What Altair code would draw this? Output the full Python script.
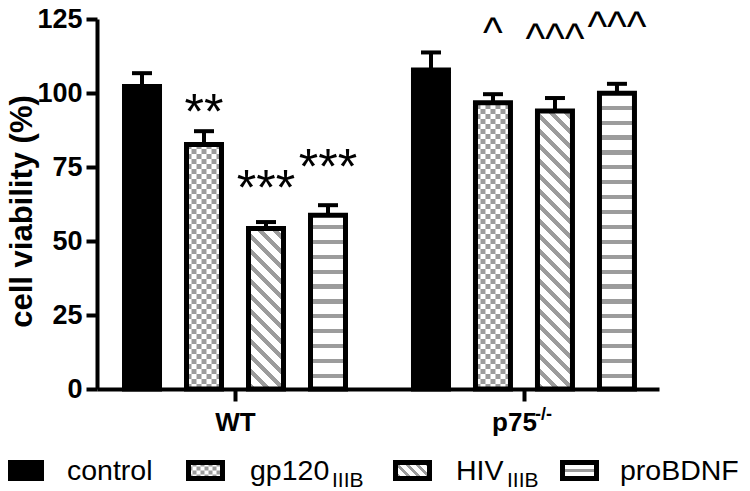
import altair as alt
import pandas as pd

# ---------------- data ----------------
groups = ["WT", "p75"]
treatments = ["control", "gp120", "HIV", "proBDNF"]
mean_wt = [102.2, 82.6, 54.2, 58.7]
sem_wt = [4.5, 4.5, 2.2, 3.4]
mean_p75 = [107.8, 96.7, 93.9, 99.9]
sem_p75 = [5.9, 2.9, 4.4, 3.2]
sig_wt = ["", "**", "***", "***"]
sig_p75 = ["", "^", "^^^", "^^^"]
sig_y_wt = [0, 88.0, 62.3, 69.4]
sig_y_p75 = [0, 115.5, 113.5, 117.5]
y_ticks = [0, 25, 50, 75, 100, 125]
legend_main = ["control", "gp120", "HIV", "proBDNF"]
legend_sub = ["", "IIIB", "IIIB", ""]

# ---------------- layout / style constants ----------------
FONT = "Liberation Sans"
GRAY = "#9c9c9c"
W_PLOT, H_PLOT = 562, 370
YMAX = 125
PXU = H_PLOT / YMAX          # pixels per y unit
STEP = 62.0                  # pixels per bar slot
GAP = 4.661                  # slot distance between the two groups
X_DOMAIN = [-0.726, 8.339]
HALF = 17.5 / STEP           # half bar width (stroke centred)
CAP = 10 / STEP              # half cap width
BAR_W_PX = 35

rows = []
for gi, (g, means, sems, sigs, sys_) in enumerate(
    [("WT", mean_wt, sem_wt, sig_wt, sig_y_wt),
     ("p75", mean_p75, sem_p75, sig_p75, sig_y_p75)]):
    for ti, t in enumerate(treatments):
        rows.append(dict(group=g, gi=gi, treatment=t, ti=ti, mean=means[ti],
                         sem=sems[ti], sig=sigs[ti], sig_y=sys_[ti]))
df = pd.DataFrame(rows)

# checker columns for gp120 bars (pattern decoration)
CELL = 5
NCOL = 7
chk_rows = []
for r in rows:
    if r["treatment"] == "gp120":
        for c in range(NCOL):
            chk_rows.append(dict(gi=r["gi"], ti=r["ti"], mean=r["mean"], c=c))
df_chk = pd.DataFrame(chk_rows)

xscale = alt.Scale(domain=X_DOMAIN, nice=False, zero=False)
yscale = alt.Scale(domain=[0, YMAX], nice=False, zero=True)

xaxis = alt.Axis(
    values=[1.5, GAP + 1.5],
    labelExpr="datum.value < 4 ? 'WT' : 'p75'",
    title="", grid=False, tickSize=12, tickWidth=4, tickColor="black",
    domainWidth=4, domainColor="black", labelFont=FONT, labelFontWeight="bold",
    labelFontSize=26, labelColor="black", labelPadding=8, labelFlush=False,
    labelOverlap=False,
    labelOffset={"condition": {"test": "datum.value > 4", "value": -10}, "value": 0},
)
yaxis = alt.Axis(
    values=y_ticks, title="cell viability (%)", grid=False,
    titleFont=FONT, titleFontSize=31, titleFontWeight="bold", titleColor="black",
    titleAngle=270, titleX=-66, titleY=192, titleAlign="center",
    titleBaseline="alphabetic",
    tickSize=11, tickWidth=4, tickColor="black", domainWidth=4,
    domainColor="black", labelFont=FONT, labelFontWeight="bold",
    labelFontSize=27, labelColor="black", labelPadding=4, labelFlush=False,
)


def X(f):
    return alt.X(f, type="quantitative", scale=xscale, axis=xaxis)


def Y(f):
    return alt.Y(f, type="quantitative", scale=yscale, axis=yaxis)


base = alt.Chart(df).transform_calculate(
    pos=f"datum.gi * {GAP} + datum.ti", z="0"
).transform_calculate(
    xl=f"datum.pos - {HALF}", xr=f"datum.pos + {HALF}",
    top="datum.mean + datum.sem",
    cl=f"datum.pos - {CAP}", cr=f"datum.pos + {CAP}",
)


def diag_grad(W, H, period, gray, color, start=2.0):
    T = W + H
    m = T / (W * W + H * H)
    stops = [{"offset": 0, "color": "white"}]
    s = start
    while s < T:
        a = round(s / T, 5)
        b = round(min((s + gray) / T, 1), 5)
        stops += [{"offset": a, "color": "white"}, {"offset": a, "color": color},
                  {"offset": b, "color": color}, {"offset": b, "color": "white"}]
        s += period
    stops.append({"offset": 1, "color": "white"})
    return {"gradient": "linear", "x1": 0, "y1": 1, "x2": round(m * W, 5),
            "y2": round(1 - m * H, 5), "stops": stops}


def hstripe_grad(H, first, period, gray, color):
    stops = [{"offset": 0, "color": "white"}]
    s = first
    while s < H:
        a = round(s / H, 5)
        b = round(min((s + gray) / H, 1), 5)
        stops += [{"offset": a, "color": "white"}, {"offset": a, "color": color},
                  {"offset": b, "color": color}, {"offset": b, "color": "white"}]
        s += period
    stops.append({"offset": 1, "color": "white"})
    return {"gradient": "linear", "x1": 0, "y1": 1, "x2": 0, "y2": 0, "stops": stops}


layers = []

# control bars (solid black)
layers.append(base.transform_filter("datum.ti == 0").mark_rect(fill="black")
              .encode(x=X("xl"), x2="xr:Q", y=Y("z"), y2="mean:Q"))
# gp120 white background
layers.append(base.transform_filter("datum.ti == 1").mark_rect(fill="white")
              .encode(x=X("xl"), x2="xr:Q", y=Y("z"), y2="mean:Q"))
# gp120 checkerboard (dashed columns)
chk = alt.Chart(df_chk).transform_calculate(
    xc=f"datum.gi * {GAP} + datum.ti - {HALF} + (datum.c + 0.5) * {CELL / STEP}",
    z="0",
)
for parity, off in [(0, 0), (1, CELL)]:
    layers.append(
        chk.transform_filter(f"datum.c % 2 == {parity}")
        .mark_rule(color=GRAY, strokeWidth=CELL, strokeDash=[CELL, CELL],
                   strokeDashOffset=off, strokeCap="butt")
        .encode(x=X("xc"), y=Y("z"), y2="mean:Q"))

# HIV diagonal stripes & proBDNF horizontal stripes (gradient fills)
for r in rows:
    H = r["mean"] * PXU
    if r["treatment"] == "HIV":
        fill = diag_grad(BAR_W_PX, H, 15, 6, GRAY)
    elif r["treatment"] == "proBDNF":
        fill = hstripe_grad(H, 11, 14.9, 4.2, GRAY)
    else:
        continue
    layers.append(
        base.transform_filter(f"datum.gi == {r['gi']} && datum.ti == {r['ti']}")
        .mark_rect(fill=fill)
        .encode(x=X("xl"), x2="xr:Q", y=Y("z"), y2="mean:Q"))

# outlines
layers.append(base.mark_rect(fillOpacity=0, stroke="black", strokeWidth=5)
              .encode(x=X("xl"), x2="xr:Q", y=Y("z"), y2="mean:Q"))
# error bars
layers.append(base.mark_rule(color="black", strokeWidth=4)
              .encode(x=X("pos"), y=Y("mean"), y2="top:Q"))
layers.append(base.mark_rule(color="black", strokeWidth=4)
              .encode(x=X("cl"), x2="cr:Q", y=Y("top")))
# significance marks
layers.append(base.transform_filter("indexof(datum.sig, '*') >= 0")
              .mark_text(font=FONT, fontSize=50, baseline="alphabetic", color="black")
              .encode(x=X("pos"), y=Y("sig_y"), text="sig:N"))
layers.append(base.transform_filter("indexof(datum.sig, '^') >= 0")
              .mark_text(font=FONT, fontSize=42, baseline="alphabetic", color="black")
              .encode(x=X("pos"), y=Y("sig_y"), text="sig:N"))

# superscript of p75 label
one = alt.Chart(pd.DataFrame({"k": [0]}))
layers.append(one.mark_text(text="-/-", font=FONT, fontSize=18, fontWeight="bold",
                            align="left", baseline="alphabetic", color="black")
              .encode(x=alt.value(438), y=alt.value(401)))

# ---------------- legend (custom, drawn in pixel space) ----------------
LY0, LY1 = 443.5, 459.5
sw_left = [-89.5, 91.5, 298.5, 465.5]
SW_W = 34
txt_x = [-30, 153, 359, 523]
sub_x = [None, 235, 410, None]
LBASE, SBASE = 461, 468

# control swatch
layers.append(one.mark_rect(fill="black").encode(
    x=alt.value(sw_left[0]), x2=alt.value(sw_left[0] + SW_W),
    y=alt.value(LY0), y2=alt.value(LY1)))
# gp120 swatch
layers.append(one.mark_rect(fill="white").encode(
    x=alt.value(sw_left[1]), x2=alt.value(sw_left[1] + SW_W),
    y=alt.value(LY0), y2=alt.value(LY1)))
for c in range(9):
    xc = sw_left[1] + 2 + c * 4
    layers.append(one.mark_rule(color=GRAY, strokeWidth=4, strokeDash=[4, 4],
                                strokeDashOffset=4 * (c % 2), strokeCap="butt")
                  .encode(x=alt.value(xc), y=alt.value(LY1), y2=alt.value(LY0)))
# HIV swatch
layers.append(one.mark_rect(fill=diag_grad(SW_W, LY1 - LY0, 10, 4, GRAY, start=3)).encode(
    x=alt.value(sw_left[2]), x2=alt.value(sw_left[2] + SW_W),
    y=alt.value(LY0), y2=alt.value(LY1)))
# proBDNF swatch
layers.append(one.mark_rect(fill=hstripe_grad(LY1 - LY0, 6.3, 100, 3.4, GRAY)).encode(
    x=alt.value(sw_left[3]), x2=alt.value(sw_left[3] + SW_W),
    y=alt.value(LY0), y2=alt.value(LY1)))
for i in range(4):
    layers.append(one.mark_rect(fillOpacity=0, stroke="black", strokeWidth=5).encode(
        x=alt.value(sw_left[i]), x2=alt.value(sw_left[i] + SW_W),
        y=alt.value(LY0), y2=alt.value(LY1)))
    layers.append(one.mark_text(text=legend_main[i], font=FONT, fontSize=28.5,
                                align="left", baseline="alphabetic", color="black")
                  .encode(x=alt.value(txt_x[i]), y=alt.value(LBASE)))
    if legend_sub[i]:
        layers.append(one.mark_text(text=legend_sub[i], font=FONT, fontSize=21,
                                    align="left", baseline="alphabetic", color="black")
                      .encode(x=alt.value(sub_x[i]), y=alt.value(SBASE)))

chart = alt.layer(*layers).properties(
    width=W_PLOT, height=H_PLOT,
    autosize=alt.AutoSizeParams(type="none"),
    padding={"left": 89, "top": 11, "right": 83, "bottom": 99},
).configure_view(strokeWidth=0)

chart.save("out.html", embed_options={"renderer": "svg", "actions": False})
